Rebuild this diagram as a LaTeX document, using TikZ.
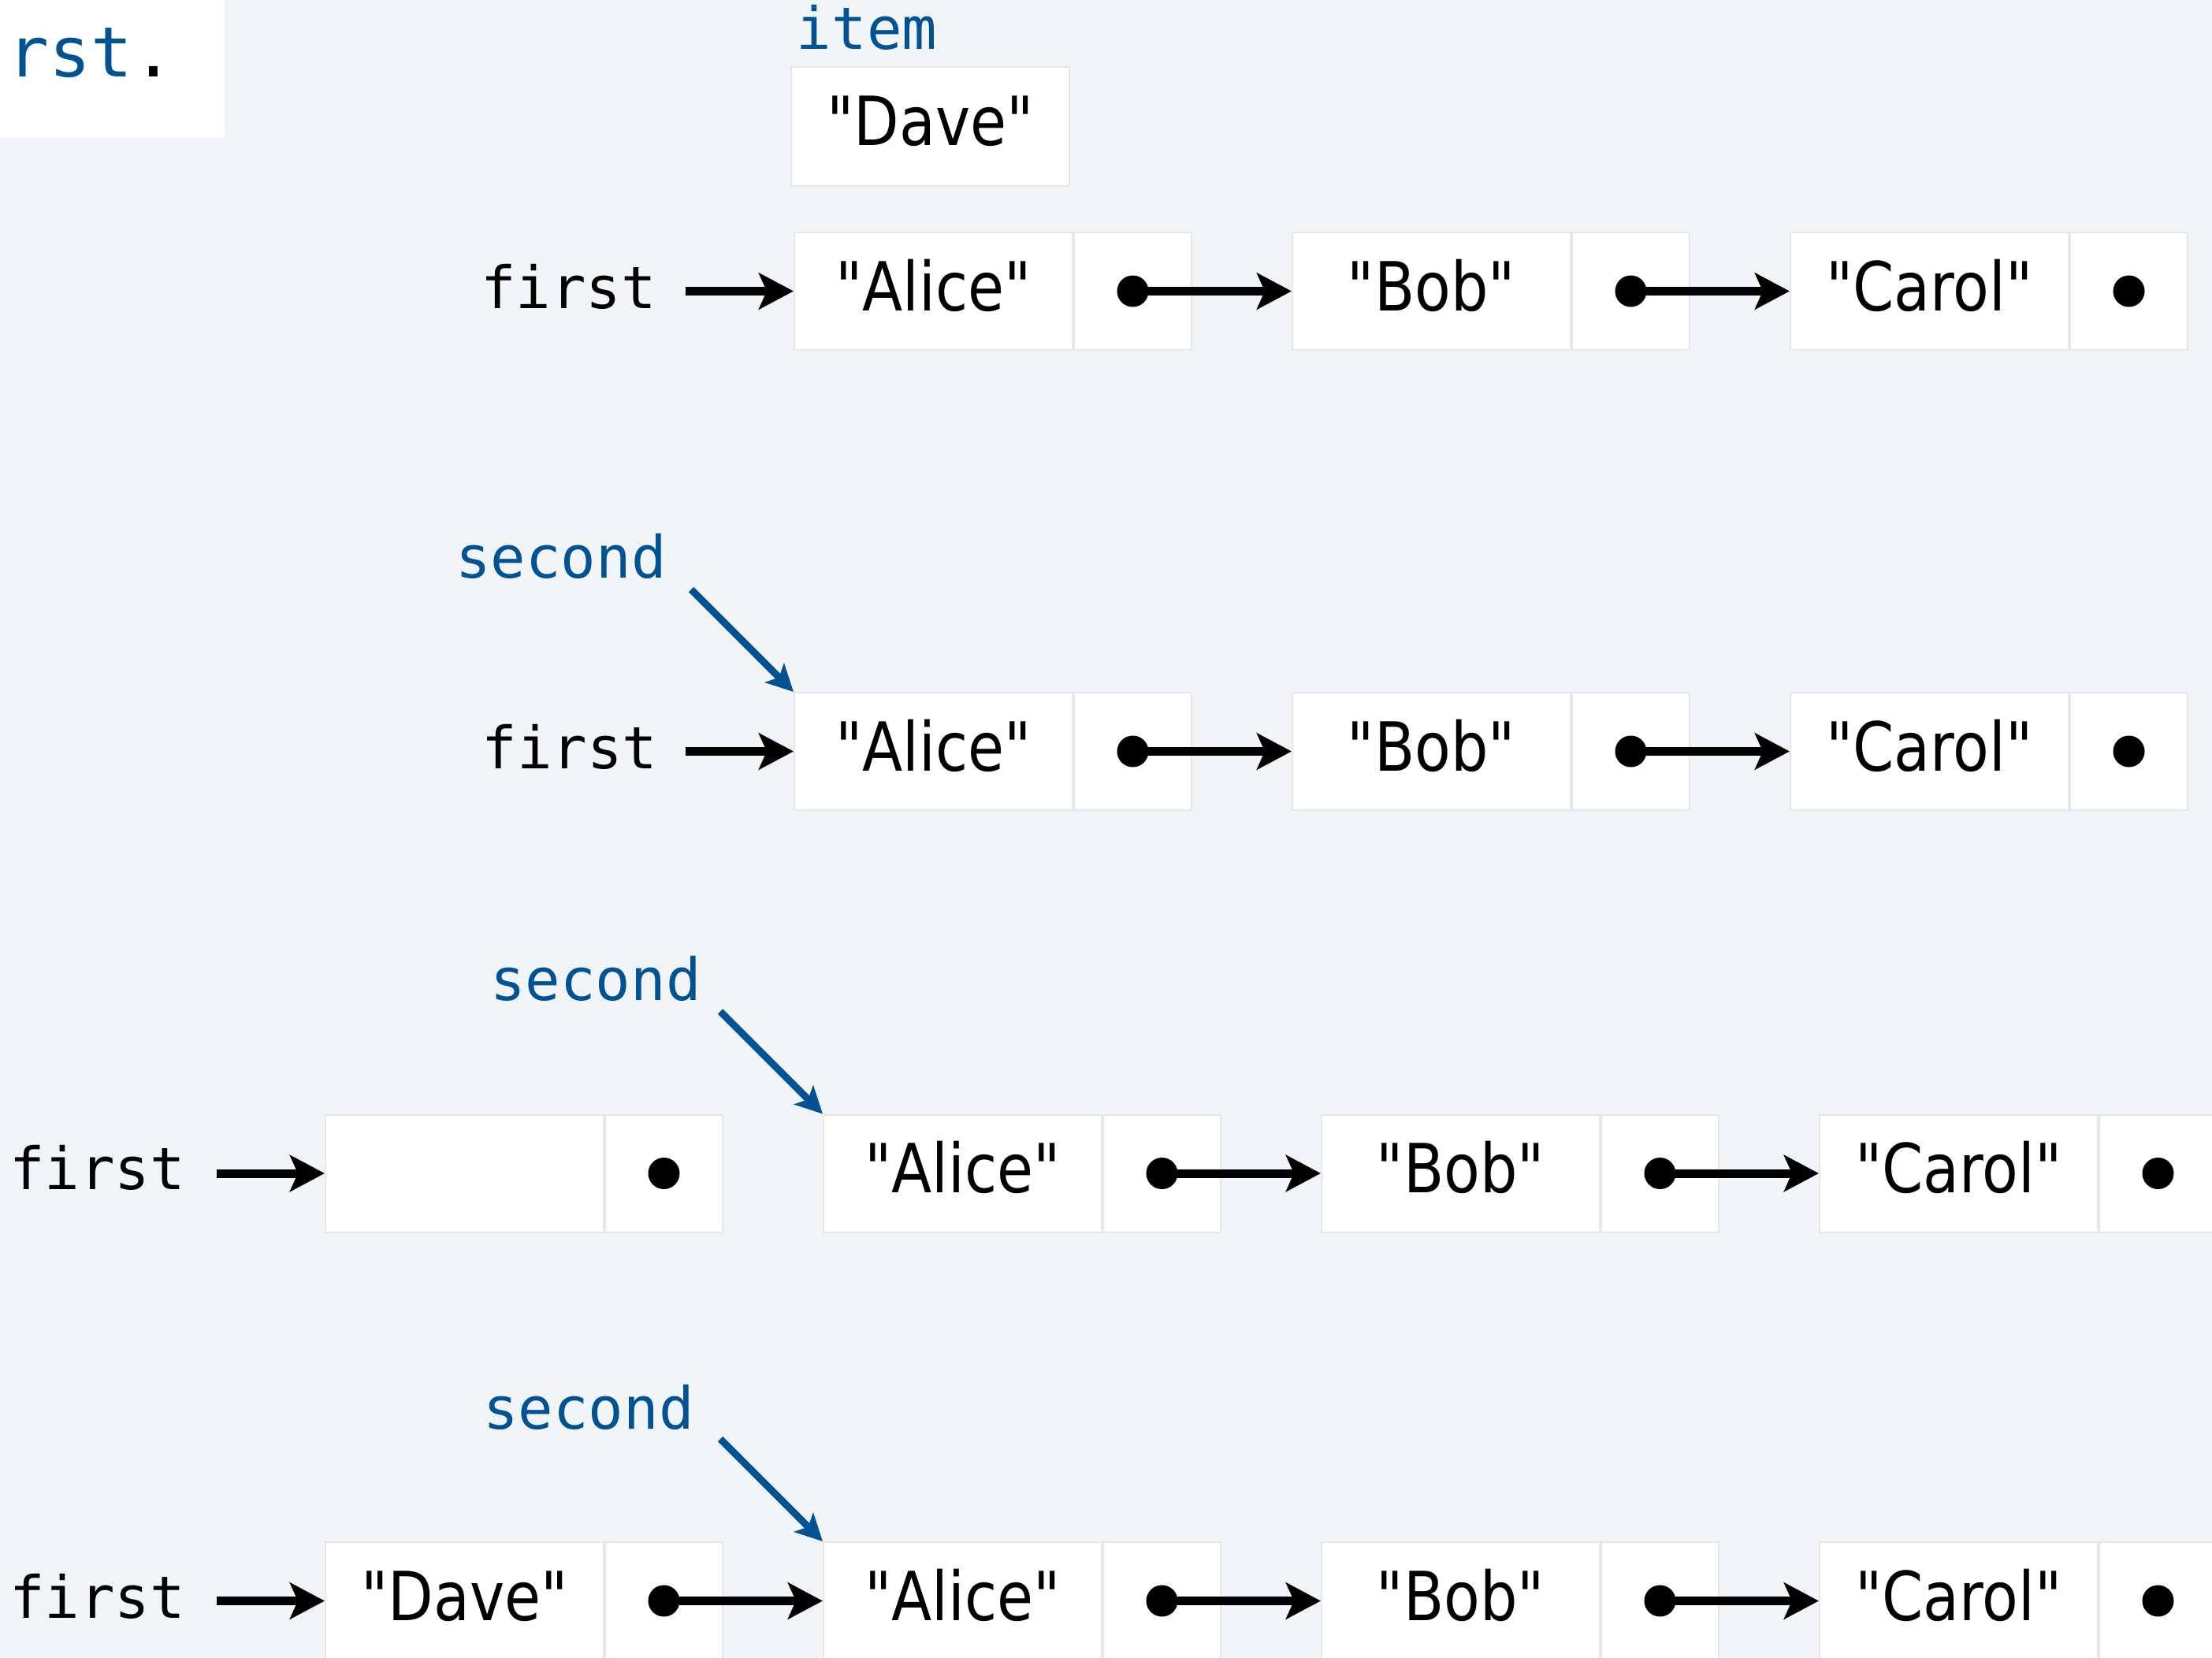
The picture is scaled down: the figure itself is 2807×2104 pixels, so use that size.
\documentclass[tikz,border=0pt]{standalone}
\usepackage{fontspec}
\setmainfont[FakeStretch=0.87,Ligatures=TeXOff]{DejaVu Sans}
\newfontfamily\monof[Ligatures=TeXOff]{DejaVu Sans Mono}
\usetikzlibrary{arrows.meta}
\definecolor{bgc}{RGB}{242,245,248}
\definecolor{bluec}{RGB}{0,82,147}
\definecolor{edgec}{RGB}{230,231,233}
\newcommand\lnode[4]{%
  \node[itembox] (#1) at (#2,#3) {#4};
  \node[nextbox] (#1n) at (#1.east) {};
}
\begin{document}
\begin{tikzpicture}[x=0.5pt,y=-0.5pt,
  itembox/.style={draw=edgec, line width=1pt, fill=white, minimum width=176.5pt, minimum height=74.5pt, inner sep=0pt, anchor=west, font=\fontsize{43}{50}\selectfont, text height=30pt, text depth=5.5pt},
  nextbox/.style={draw=edgec, line width=1pt, fill=white, minimum width=74.5pt, minimum height=74.5pt, inner sep=0pt, anchor=west},
  lab/.style={font=\monof\fontsize{37}{44}\selectfont, inner sep=0pt, anchor=base},
  blab/.style={lab, text=bluec},
  ptr/.style={line width=5.5pt, -{Stealth[length=22pt,width=23pt,inset=5pt]}},
  bptr/.style={line width=4.5pt, draw=bluec, color=bluec, -{Stealth[length=17pt,width=17pt,inset=4pt]}},
  dotn/.style={circle, fill=black, minimum size=20pt, inner sep=0pt}
]
\fill[bgc] (0,0) rectangle (2807,2104);
\useasboundingbox (0,0) rectangle (2807,2104);
\fill[white] (0,0) rectangle (285,175);
\node[anchor=base west, inner sep=0pt, font=\monof\fontsize{44}{52}\selectfont] (rst) at (9,97) {\textcolor{bluec}{rst}.};

% top: item
\node[blab] (item) at (1100,62) {item};
\node[itembox, anchor=center, minimum height=75.5pt] (dave) at (1180.5,160) {"Dave"};

% rows
\foreach \r/\y in {1/369.5, 2/953.5}{
  \lnode{a\r}{1007}{\y}{"Alice"}
  \lnode{b\r}{1639}{\y}{"Bob"}
  \lnode{c\r}{2271}{\y}{"Carol"}
}
\lnode{e3}{412}{1489}{}
\lnode{a3}{1044}{1489}{"Alice"}
\lnode{b3}{1676}{1489}{"Bob"}
\lnode{c3}{2308}{1489}{"Carol"}
\lnode{d4}{412}{2031.5}{"Dave"}
\lnode{a4}{1044}{2031.5}{"Alice"}
\lnode{b4}{1676}{2031.5}{"Bob"}
\lnode{c4}{2308}{2031.5}{"Carol"}

% labels
\node[lab] (f1) at (721.5,391) {first};
\node[lab] (f2) at (723,975) {first};
\node[lab] (f3) at (123.5,1509) {first};
\node[lab] (f4) at (123.5,2053) {first};
\node[blab] (s2) at (712,733) {second};
\node[blab] (s3) at (756,1269) {second};
\node[blab] (s4) at (747,1813) {second};

% first pointers
\foreach \r/\t in {1/a1, 2/a2, 3/e3, 4/d4}{
  \coordinate (fs\r) at ([xshift=-68.5pt]\t.west);
  \draw[ptr] (fs\r) -- (\t.west);
}
% second pointers
\foreach \r in {2,3,4}{
  \coordinate (ss\r) at ([xshift=-65pt,yshift=65pt]a\r.north west);
  \draw[bptr] (ss\r) -- (a\r.north west);
}
% next pointers
\foreach \r in {1,2,3,4}{
  \draw[ptr] (a\r n.center) -- (b\r.west);
  \draw[ptr] (b\r n.center) -- (c\r.west);
  \node[dotn] (da\r) at (a\r n.center) {};
  \node[dotn] (db\r) at (b\r n.center) {};
  \node[dotn] (dc\r) at (c\r n.center) {};
}
\node[dotn] (de3) at (e3n.center) {};
\draw[ptr] (d4n.center) -- (a4.west);
\node[dotn] (dd4) at (d4n.center) {};
\end{tikzpicture}
\end{document}
